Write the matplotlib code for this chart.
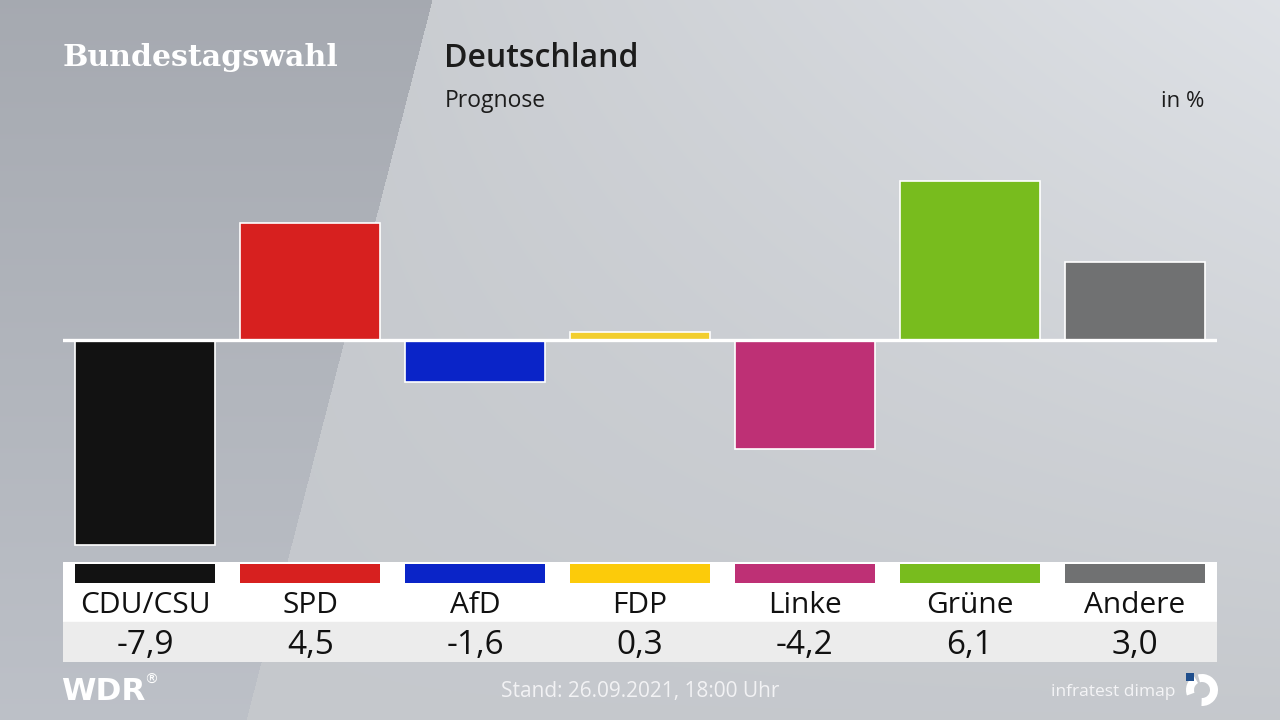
import numpy as np
import matplotlib
matplotlib.use("Agg")
import matplotlib.pyplot as plt
from matplotlib.patches import Wedge, Rectangle

# ---- data ----
parties = ["CDU/CSU", "SPD", "AfD", "FDP", "Linke", "Grüne", "Andere"]
changes = [-7.9, 4.5, -1.6, 0.3, -4.2, 6.1, 3.0]
value_labels = ["-7,9", "4,5", "-1,6", "0,3", "-4,2", "6,1", "3,0"]
colors = ["#121212", "#d7201f", "#0a24c8", "#f2ce2e", "#be3075", "#78bc1e", "#707172"]
strip_colors = ["#121212", "#d7201f", "#0a24c8", "#fccb0a", "#be3075", "#78bc1e", "#707172"]

title_left = "Bundestagswahl"
title_main = "Deutschland"
subtitle = "Prognose"
unit = "in %"
stand = "Stand: 26.09.2021, 18:00 Uhr"
source = "infratest dimap"

W, H = 1280, 720
fig = plt.figure(figsize=(12.8, 7.2), dpi=100)
SANS = ["Open Sans", "DejaVu Sans"]

# ---- background ----
bg = fig.add_axes([0, 0, 1, 1], zorder=0)
bg.set_xlim(0, W); bg.set_ylim(H, 0); bg.axis("off")
yy, xx = np.mgrid[0:H, 0:W].astype(float)
L = 0.765 + 0.12 * (xx / W) * (1 - yy / H) + 0.02 * (yy / H)
D = 0.665 + 0.09 * (yy / H)
edge = 432 - 0.2583 * yy
mask = xx < edge
img = np.empty((H, W, 3))
tint_l = np.array([-0.012, 0.0, 0.018])
tint_d = np.array([-0.015, 0.0, 0.028])
img[...] = L[..., None] + tint_l
img[mask] = D[mask][..., None] + tint_d
bg.imshow(np.clip(img, 0, 1), extent=(0, W, H, 0), aspect="auto", interpolation="bilinear")

# ---- bars ----
left_px, right_px = 63, 1217
top_px, bot_px = 150, 560
ax = fig.add_axes([left_px / W, 1 - bot_px / H, (right_px - left_px) / W, (bot_px - top_px) / H], zorder=1)
ax.patch.set_alpha(0)
x = np.arange(len(parties))
ax.bar(x, changes, width=0.85, color=colors, edgecolor="white", linewidth=1.2, zorder=2)
ax.axhline(0, color="white", linewidth=2.4, zorder=3)
ppu = 26.0
ax.set_ylim(-(bot_px - 340) / ppu, (340 - top_px) / ppu)
ax.set_xlim(-0.5, len(parties) - 0.5)
ax.axis("off")

# ---- table ----
tb = fig.add_axes([left_px / W, 1 - 662 / H, (right_px - left_px) / W, 100 / H], zorder=1, sharex=ax)
tb.set_ylim(100, 0)
tb.axhspan(0, 60, color="white", zorder=0)
tb.axhspan(60, 100, color="#ececec", zorder=0)
tb.bar(x, 19, bottom=1.5, width=0.85, color=strip_colors, zorder=2)
for i, (p, v) in enumerate(zip(parties, value_labels)):
    tb.text(i, 51, p, ha="center", va="baseline", fontsize=21.5, fontweight="medium",
            color="#111111", family=SANS)
    tb.text(i, 92, v, ha="center", va="baseline", fontsize=24, fontweight="medium",
            color="#111111", family=SANS)
tb.set_xlim(-0.5, len(parties) - 0.5)
tb.axis("off")

# ---- overlay texts ----
ov = fig.add_axes([0, 0, 1, 1], zorder=5)
ov.set_xlim(0, W); ov.set_ylim(H, 0); ov.axis("off"); ov.patch.set_alpha(0)
ov.text(63, 66, title_left, fontsize=21.6, fontweight="bold", color="white",
        family=["DejaVu Serif"], va="baseline", ha="left")
ov.text(444, 67, title_main, fontsize=23, fontweight="semibold", color="#1c1c1c",
        family=SANS, va="baseline", ha="left")
ov.text(445, 107, subtitle, fontsize=16.5, fontweight="medium", color="#1c1c1c",
        family=SANS, va="baseline", ha="left")
ov.text(1204, 107, unit, fontsize=16, fontweight="medium", color="#1c1c1c",
        family=SANS, va="baseline", ha="right")
ov.text(640, 697, stand, fontsize=15, color="#f2f2f4", family=SANS, va="baseline", ha="center")
ov.text(1175, 696, source, fontsize=12.5, color="#f4f4f6", family=SANS, va="baseline", ha="right")
ov.text(61, 700, "WDR", fontsize=22.5, fontweight="heavy", color="white", family=["DejaVu Sans"],
        va="baseline", ha="left")
ov.text(151, 684, "®", fontsize=10, color="white", family=["DejaVu Sans"], va="baseline", ha="center")

# infratest dimap logo
cx, cy, r = 1202, 690, 16
ov.add_patch(Wedge((cx, cy), r, -105, 92, width=8, facecolor="white", edgecolor="none"))
ov.add_patch(Wedge((cx, cy), r, 160, 240, width=8, facecolor="white", edgecolor="none"))
ov.add_patch(Rectangle((1186, 673), 8, 8, facecolor="#1f4e8c", edgecolor="none"))

fig.savefig("out.png", dpi=100)
